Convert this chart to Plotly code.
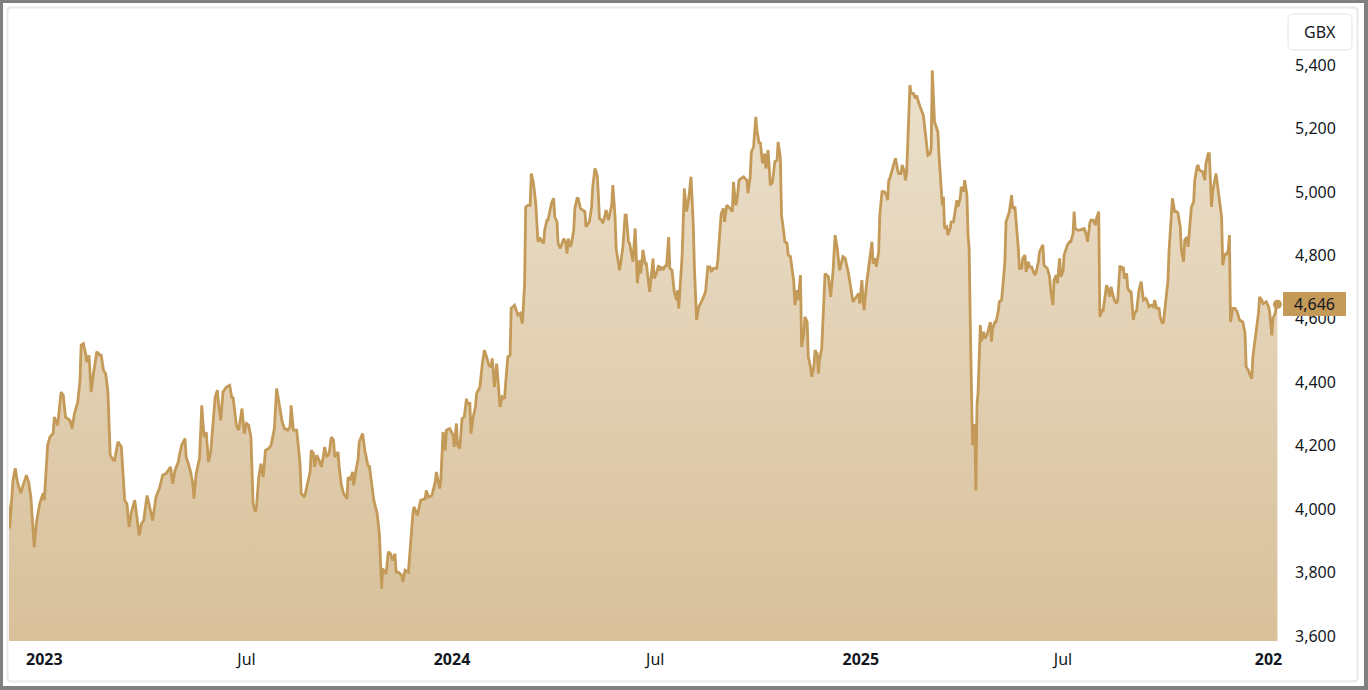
import plotly.graph_objects as go
import pandas as pd

# ---------------- data ----------------
d2022 = ["11-29", "12-01", "12-04", "12-06", "12-08", "12-11", "12-13", "12-16", "12-18", "12-20",
         "12-23", "12-25", "12-28", "12-31"]
p2022 = [4038, 3939, 4091, 4129, 4085, 4050, 4075, 4107, 4085, 4038, 3880, 3959, 4018, 4050]

d2023 = ["01-01", "01-04", "01-06", "01-09", "01-10", "01-13", "01-16", "01-18", "01-20", "01-24", "01-26", "01-28", "01-31",
         "02-02", "02-03", "02-05", "02-07", "02-08", "02-10", "02-12", "02-14", "02-17", "02-20", "02-21", "02-23", "02-25", "02-27",
         "03-01", "03-04", "03-05", "03-08", "03-11", "03-14", "03-16", "03-18", "03-20", "03-23", "03-25", "03-27", "03-29", "03-31",
         "04-02", "04-03", "04-05", "04-08", "04-11", "04-14", "04-17", "04-20", "04-24", "04-26", "04-28",
         "05-01", "05-02", "05-04", "05-07", "05-08", "05-10", "05-12", "05-14", "05-15", "05-17", "05-20", "05-22", "05-24", "05-26", "05-28", "05-30",
         "06-01", "06-03", "06-05", "06-06", "06-08", "06-10", "06-13", "06-16", "06-18", "06-19", "06-22", "06-24", "06-25", "06-27", "06-29",
         "07-01", "07-03", "07-05", "07-07", "07-09", "07-10", "07-12", "07-14", "07-16", "07-18", "07-21", "07-23", "07-24", "07-26", "07-28", "07-31",
         "08-02", "08-04", "08-07", "08-09", "08-10", "08-12", "08-15", "08-18", "08-19", "08-22", "08-24", "08-27", "08-28", "08-30", "08-31",
         "09-02", "09-04", "09-06", "09-08", "09-09", "09-11", "09-13", "09-15", "09-17", "09-18", "09-21", "09-22", "09-24", "09-26", "09-29", "09-30",
         "10-02", "10-04", "10-05", "10-07", "10-09", "10-10", "10-13", "10-15", "10-18", "10-19", "10-21", "10-23", "10-26", "10-28", "10-30", "10-31",
         "11-03", "11-05", "11-07", "11-09", "11-11", "11-12", "11-14", "11-17", "11-18", "11-20", "11-23", "11-24", "11-26", "11-27", "11-28",
         "12-01", "12-04", "12-08", "12-09", "12-11", "12-14", "12-17", "12-18", "12-21", "12-22", "12-24", "12-26", "12-27", "12-30"]
p2023 = [4028, 4201, 4227, 4239, 4290, 4264, 4369, 4359, 4290, 4280, 4254, 4301, 4338,
         4406, 4517, 4522, 4490, 4464, 4485, 4369, 4427, 4496, 4485, 4485, 4438, 4427, 4369,
         4170, 4154, 4154, 4212, 4196, 4028, 4017, 3943, 3991, 4028, 3970, 3917, 3954, 3964,
         4017, 4043, 4012, 3964, 4038, 4065, 4107, 4112, 4133, 4080, 4122,
         4149, 4170, 4201, 4222, 4164, 4143, 4117, 4080, 4033, 4112, 4160, 4327, 4227, 4243, 4149, 4180,
         4280, 4354, 4375, 4333, 4280, 4369, 4385, 4390, 4349, 4354, 4264, 4249, 4270, 4317, 4238,
         4270, 4264, 4227, 4017, 3991, 4007, 4101, 4143, 4101, 4185, 4191, 4201, 4217, 4254, 4380, 4322,
         4275, 4254, 4249, 4259, 4327, 4249, 4249, 4143, 4049, 4038, 4070, 4117, 4185, 4175, 4133,
         4170, 4154, 4133, 4170, 4196, 4164, 4175, 4227, 4217, 4164, 4180, 4133, 4075, 4049, 4033, 4101,
         4091, 4117, 4075, 4122, 4159, 4212, 4238, 4185, 4133, 4138, 4080, 4028, 3986, 3923, 3749, 3812,
         3796, 3865, 3859, 3838, 3859, 3801, 3801, 3791, 3770, 3807, 3801, 3850, 3964, 3986, 4007,
         3980, 4028, 4033, 4059, 4038, 4043, 4085, 4117, 4065, 4091, 4243, 4185, 4249, 4254]

d2024 = ["01-02", "01-03", "01-05", "01-06", "01-08", "01-10", "01-12", "01-14", "01-15", "01-17", "01-18", "01-20", "01-22", "01-23", "01-26", "01-28", "01-30",
         "02-01", "02-03", "02-05", "02-06", "02-08", "02-10", "02-11", "02-13", "02-15", "02-17", "02-19", "02-20", "02-22", "02-23", "02-26", "02-28", "02-29",
         "03-02", "03-04", "03-06", "03-07", "03-09", "03-11", "03-12", "03-14", "03-16", "03-18", "03-20", "03-21", "03-23", "03-24", "03-26", "03-27", "03-29", "03-30",
         "04-01", "04-02", "04-04", "04-05", "04-07", "04-09", "04-10", "04-12", "04-13", "04-14", "04-16", "04-17", "04-19", "04-20", "04-22", "04-23", "04-25", "04-27", "04-29", "04-30",
         "05-03", "05-05", "05-06", "05-08", "05-10", "05-11", "05-12", "05-14", "05-15", "05-17", "05-18", "05-20", "05-21", "05-23", "05-24", "05-26", "05-27", "05-29", "05-30", "05-31",
         "06-02", "06-04", "06-05", "06-07", "06-08", "06-11", "06-13", "06-15", "06-17", "06-18", "06-20", "06-22", "06-23", "06-26", "06-29", "06-30",
         "07-02", "07-04", "07-05", "07-07", "07-08", "07-10", "07-11", "07-13", "07-14", "07-16", "07-18", "07-20", "07-21", "07-22", "07-23", "07-25", "07-27", "07-29", "07-31",
         "08-02", "08-04", "08-05", "08-07", "08-09", "08-12", "08-15", "08-17", "08-19", "08-20", "08-22", "08-25", "08-26", "08-29", "08-31",
         "09-01", "09-03", "09-06", "09-08", "09-09", "09-11", "09-12", "09-14", "09-16", "09-18", "09-21", "09-22", "09-24", "09-25", "09-27", "09-29", "09-30",
         "10-02", "10-03", "10-05", "10-07", "10-08", "10-10", "10-12", "10-14", "10-16", "10-18", "10-19", "10-21", "10-22", "10-24", "10-25", "10-27", "10-28", "10-30", "10-31",
         "11-02", "11-03", "11-05", "11-06", "11-08", "11-09", "11-11", "11-12", "11-14", "11-15", "11-17", "11-18", "11-20", "11-21", "11-23", "11-24", "11-25", "11-27", "11-29", "11-30",
         "12-03", "12-05", "12-07", "12-09", "12-11", "12-13", "12-16", "12-18", "12-21", "12-23", "12-25", "12-28", "12-30", "12-31"]
p2024 = [4233, 4196, 4270, 4201, 4191, 4285, 4291, 4348, 4333, 4333, 4238, 4291, 4322, 4364, 4385, 4454, 4501,
         4480, 4454, 4448, 4475, 4385, 4459, 4417, 4322, 4354, 4348, 4438, 4480, 4485, 4633, 4643, 4617, 4612,
         4617, 4585, 4706, 4953, 4958, 4958, 5058, 5027, 4964, 4843, 4853, 4848, 4838, 4880, 4911, 4911, 4953, 4964,
         4980, 4922, 4906, 4838, 4822, 4848, 4853, 4838, 4806, 4853, 4827, 4838, 4880, 4948, 4980, 4980, 4948, 4943, 4938, 4890,
         4906, 4953, 5016, 5074, 5053, 4996, 4916, 4911, 4901, 4927, 4943, 4911, 4927, 4958, 5022, 4922, 4822, 4774, 4753, 4774,
         4827, 4927, 4927, 4843, 4838, 4780, 4885, 4712, 4785, 4743, 4817, 4774, 4774, 4685, 4790, 4727,
         4743, 4769, 4753, 4764, 4753, 4769, 4764, 4858, 4759, 4753, 4685, 4659, 4690, 4633, 4690, 4796, 5011, 4938, 4980,
         5048, 4901, 4764, 4596, 4638, 4659, 4685, 4764, 4764, 4748, 4759, 4759, 4785, 4932, 4948,
         4906, 4958, 4948, 4938, 5032, 4958, 4969, 5037, 5043, 5048, 5037, 4996, 5048, 5126, 5142, 5237, 5195,
         5153, 5158, 5090, 5121, 5074, 5132, 5021, 5032, 5095, 5100, 5158, 5106, 4927, 4874, 4843, 4838, 4801, 4796, 4764,
         4717, 4643, 4690, 4659, 4738, 4511, 4554, 4606, 4590, 4480, 4448, 4417, 4448, 4501, 4490, 4427, 4469, 4506, 4659, 4743,
         4733, 4669, 4743, 4864, 4820, 4753, 4796, 4791, 4743, 4696, 4654, 4669, 4680, 4648]

d2025 = ["01-02", "01-03", "01-04", "01-06", "01-09", "01-11", "01-12", "01-14", "01-15", "01-17", "01-18", "01-20", "01-22", "01-24", "01-25", "01-26", "01-27", "01-29", "01-30", "01-31",
         "02-01", "02-03", "02-04", "02-06", "02-07", "02-09", "02-10", "02-11", "02-13", "02-14", "02-15", "02-17", "02-19", "02-20", "02-22", "02-23", "02-25", "02-26", "02-27",
         "03-01", "03-02", "03-04", "03-05", "03-06", "03-08", "03-09", "03-11", "03-12", "03-14", "03-15", "03-16", "03-17", "03-19", "03-20", "03-22", "03-23", "03-25", "03-26", "03-28", "03-29", "03-31",
         "04-01", "04-03", "04-04", "04-06", "04-07", "04-08", "04-09", "04-10", "04-11", "04-12", "04-13", "04-14", "04-15", "04-16", "04-17", "04-18", "04-19", "04-21", "04-22", "04-24", "04-27", "04-28", "04-29",
         "05-01", "05-02", "05-04", "05-05", "05-07", "05-08", "05-10", "05-11", "05-13", "05-14", "05-16", "05-17", "05-19", "05-20", "05-22", "05-23", "05-25", "05-26", "05-28", "05-29", "05-31",
         "06-01", "06-03", "06-04", "06-06", "06-07", "06-09", "06-10", "06-13", "06-14", "06-16", "06-17", "06-19", "06-20", "06-22", "06-23", "06-25", "06-26", "06-28", "06-29",
         "07-01", "07-02", "07-04", "07-05", "07-07", "07-08", "07-10", "07-11", "07-12", "07-14", "07-16", "07-19", "07-20", "07-22", "07-23", "07-25", "07-26", "07-28", "07-30", "07-31",
         "08-02", "08-03", "08-05", "08-06", "08-08", "08-09", "08-10", "08-12", "08-13", "08-15", "08-16", "08-18", "08-19", "08-21", "08-22", "08-24", "08-25", "08-27", "08-28", "08-30", "08-31",
         "09-02", "09-03", "09-05", "09-07", "09-09", "09-10", "09-11", "09-13", "09-14", "09-16", "09-18", "09-20", "09-21", "09-23", "09-25", "09-26", "09-28", "09-29",
         "10-01", "10-03", "10-04", "10-06", "10-07", "10-09", "10-11", "10-12", "10-14", "10-15", "10-17", "10-18", "10-20", "10-21", "10-23", "10-24", "10-26", "10-27", "10-29", "10-30", "10-31",
         "11-02", "11-03", "11-05", "11-06", "11-08", "11-09", "11-11", "11-12", "11-15", "11-17", "11-20", "11-21", "11-23", "11-24", "11-26", "11-27", "11-28", "11-30",
         "12-02", "12-04", "12-06", "12-09", "12-11", "12-12", "12-14", "12-15", "12-17", "12-18", "12-21", "12-23", "12-24", "12-26", "12-27", "12-29", "12-30"]
p2025 = [4722, 4654, 4627, 4706, 4780, 4843, 4774, 4791, 4764, 4811, 4927, 5001, 5001, 4990, 4974, 5037, 5043, 5069, 5074, 5095,
         5106, 5069, 5058, 5058, 5085, 5064, 5037, 5058, 5253, 5337, 5311, 5311, 5295, 5305, 5279, 5269, 5253, 5242, 5211,
         5148, 5116, 5121, 5137, 5384, 5221, 5211, 5190, 5116, 4990, 4958, 4985, 4885, 4890, 4864, 4885, 4906, 4906, 4927, 4974, 4953, 4980,
         5016, 5001, 5037, 4990, 4864, 4822, 4590, 4380, 4201, 4264, 4264, 4059, 4327, 4369, 4485, 4580, 4528, 4559, 4538, 4549, 4590, 4528, 4570,
         4590, 4590, 4622, 4654, 4659, 4696, 4780, 4906, 4932, 4938, 4990, 4948, 4953, 4916, 4822, 4759, 4759, 4791, 4801, 4748, 4780,
         4764, 4764, 4753, 4738, 4748, 4780, 4811, 4833, 4769, 4764, 4759, 4733, 4690, 4643, 4722, 4738, 4712, 4791, 4733,
         4748, 4801, 4822, 4833, 4843, 4843, 4869, 4938, 4885, 4880, 4880, 4885, 4885, 4864, 4843, 4901, 4911, 4911, 4895, 4916,
         4938, 4606, 4627, 4627, 4680, 4706, 4696, 4669, 4701, 4675, 4659, 4648, 4659, 4769, 4753, 4764, 4727, 4743, 4696, 4685, 4685,
         4596, 4617, 4627, 4690, 4717, 4690, 4659, 4664, 4659, 4638, 4643, 4638, 4659, 4633, 4633, 4606, 4585, 4590,
         4648, 4722, 4817, 4922, 4980, 4938, 4938, 4932, 4890, 4817, 4780, 4848, 4858, 4827, 4922, 4953, 4969, 5037, 5079, 5085, 5069,
         5064, 5064, 5037, 5090, 5121, 5121, 4953, 5001, 5058, 4996, 4922, 4769, 4806, 4801, 4817, 4864, 4590, 4633,
         4633, 4622, 4596, 4590, 4554, 4448, 4438, 4427, 4411, 4480, 4554, 4617, 4669, 4659, 4648, 4654, 4654]

d2026 = ["01-01", "01-02", "01-04", "01-05", "01-07", "01-08", "01-09"]
p2026 = [4638, 4622, 4548, 4601, 4617, 4643, 4646]

tick_dates = ["2023-01-01", "2023-07-01", "2024-01-01", "2024-07-01", "2025-01-01", "2025-07-01", "2026-01-01"]
tick_labels = ["<b>2023</b>", "Jul", "<b>2024</b>", "Jul", "<b>2025</b>", "Jul", "<b>202</b>"]
price_ticks = [3600, 3800, 4000, 4200, 4400, 4600, 4800, 5000, 5200, 5400]
currency = "GBX"

# ---------------- build frame ----------------
dates, prices = [], []
for yr, dd, pp in [(2022, d2022, p2022), (2023, d2023, p2023), (2024, d2024, p2024),
                   (2025, d2025, p2025), (2026, d2026, p2026)]:
    dates += [f"{yr}-{d}" for d in dd]
    prices += pp
df = pd.DataFrame({"date": pd.to_datetime(dates), "price": prices}).sort_values("date")
last = df.iloc[-1]

# ---------------- style ----------------
LINE = "#C49A58"
TXT = "#131722"
FONT = "Noto Sans"
W, H = 1368, 690
ML, MR, MT, MB = 9, 90, 9, 49
PW, PH = W - ML - MR, H - MT - MB


def X(px):
    return (px - ML) / PW


def Y(py):
    return (H - MB - py) / PH


def rrect(x0, y0, x1, y1, r):
    pts = [("M", x0 + r, y0), ("L", x1 - r, y0), ("Q", x1, y0, x1, y0 + r), ("L", x1, y1 - r),
           ("Q", x1, y1, x1 - r, y1), ("L", x0 + r, y1), ("Q", x0, y1, x0, y1 - r), ("L", x0, y0 + r),
           ("Q", x0, y0, x0 + r, y0)]
    s = ""
    for p in pts:
        if p[0] == "Q":
            s += f"Q{X(p[1]):.5f},{Y(p[2]):.5f} {X(p[3]):.5f},{Y(p[4]):.5f} "
        else:
            s += f"{p[0]}{X(p[1]):.5f},{Y(p[2]):.5f} "
    return s + "Z"


fig = go.Figure()
fig.add_trace(go.Scatter(
    x=df["date"], y=df["price"], mode="lines",
    line=dict(color=LINE, width=2.8),
    fill="tozeroy",
    fillgradient=dict(type="vertical", colorscale=[[0, "#D8C09A"], [1, "#EEE4D2"]],
                      start=3584, stop=5577),
    hoverinfo="skip", showlegend=False,
))
fig.add_trace(go.Scatter(
    x=[last["date"]], y=[last["price"]], mode="markers",
    marker=dict(size=9, color=LINE), cliponaxis=False,
    hoverinfo="skip", showlegend=False,
))

shapes = []
# outer grey frame
for (x0, y0, x1, y1) in [(0, 0, 3, H), (1364, 0, W, H), (0, 0, W, 3), (0, 686, W, H)]:
    shapes.append(dict(type="rect", xref="paper", yref="paper", x0=X(x0), x1=X(x1), y0=Y(y1), y1=Y(y0),
                       fillcolor="#808080", line=dict(width=0), layer="above"))
# light inner container border
shapes.append(dict(type="path", xref="paper", yref="paper", path=rrect(7.5, 7.5, 1357.5, 681.5, 4),
                   line=dict(color="#E9E9E9", width=2), layer="above"))
# currency box
shapes.append(dict(type="path", xref="paper", yref="paper", path=rrect(1288, 14, 1352, 50, 6),
                   fillcolor="white", line=dict(color="#E3E5EA", width=1), layer="above"))

annotations = [
    dict(xref="paper", yref="paper", x=X(1320), y=Y(32), text=currency, showarrow=False,
         font=dict(family=FONT, size=16, color=TXT), xanchor="center", yanchor="middle"),
    dict(xref="paper", yref="y", x=X(1283), y=last["price"], text=f"{int(last['price']):,}",
         showarrow=False, xanchor="left", yanchor="middle", bgcolor=LINE, borderpad=2,
         borderwidth=1, bordercolor=LINE, width=57, height=18,
         font=dict(family=FONT, size=16, color=TXT)),
]

fig.update_layout(
    width=W, height=H,
    margin=dict(l=ML, r=MR, t=MT, b=MB, pad=0),
    paper_bgcolor="white", plot_bgcolor="white",
    font=dict(family=FONT, size=16, color=TXT),
    shapes=shapes, annotations=annotations,
    xaxis=dict(type="date", range=["2022-11-30 10:00", "2026-01-09 12:00"],
               showgrid=False, zeroline=False, showline=False, ticks="",
               tickvals=tick_dates, ticktext=tick_labels,
               tickfont=dict(family=FONT, size=16, color=TXT), ticklabelstandoff=7),
    yaxis=dict(side="right", range=[3584, 5577], showgrid=False, zeroline=False, showline=False,
               ticks="", tickvals=price_ticks, tickformat=",d",
               tickfont=dict(family=FONT, size=16, color=TXT), ticklabelstandoff=16),
)

fig.write_html("out.html", config={"displayModeBar": False},
               post_script="document.body.style.margin='0';document.body.style.overflow='hidden';")
